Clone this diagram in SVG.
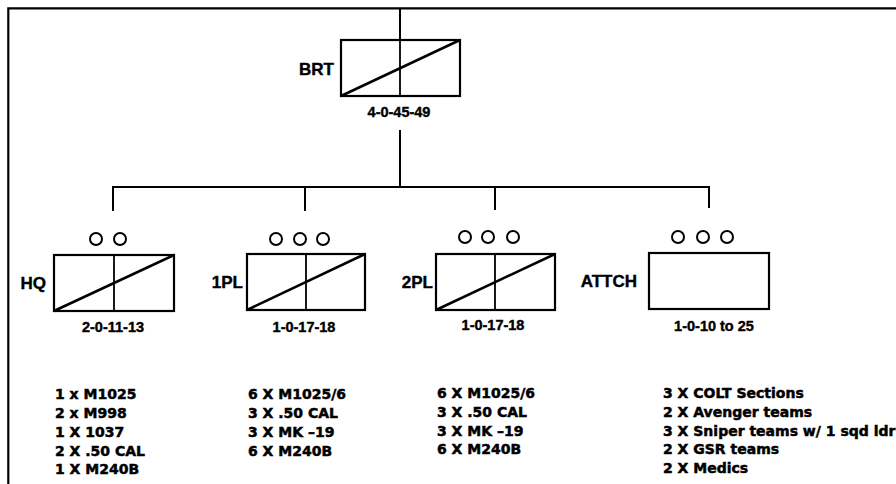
<svg xmlns="http://www.w3.org/2000/svg" width="896" height="484" viewBox="0 0 896 484">
<style>
.box{fill:none;stroke:#000;stroke-width:2.2}
.div{stroke:#000;stroke-width:1.8}
.diag{stroke:#000;stroke-width:2.6}
.ring{fill:none;stroke:#000;stroke-width:2}
.ln{fill:none;stroke:#000;stroke-width:2}
.lbl{font-family:"Liberation Sans",Arial,sans-serif;font-weight:bold;font-size:17px;fill:#000;stroke:#000;stroke-width:0.4;text-anchor:end}
.num{font-family:"Liberation Sans",Arial,sans-serif;font-weight:bold;font-size:14.5px;fill:#000;stroke:#000;stroke-width:0.4;text-anchor:middle}
.lst{font-family:"DejaVu Sans",sans-serif;font-weight:bold;font-size:14px;fill:#000;stroke:#000;stroke-width:0.5}
</style>
<rect width="896" height="484" fill="#fff"/>
<path d="M8.3,484 V8.3 H896" fill="none" stroke="#000" stroke-width="2.2"/>
<g id="connectors">
<path class="ln" d="M400,9 V40"/>
<path class="ln" d="M400,130 V187"/>
<path class="ln" d="M113,211 V187 H709 V208"/>
<path class="ln" d="M305,187 V211"/>
<path class="ln" d="M495,187 V210"/>
</g>
<g id="BRT">
<rect class="box" x="341" y="40" width="119" height="56"/>
<line class="div" x1="400" y1="40" x2="400" y2="96"/>
<line class="diag" x1="341" y1="96" x2="460" y2="40"/>
<text class="lbl" x="334" y="75">BRT</text>
<text class="num" x="399" y="117">4-0-45-49</text>
</g>
<g id="HQ">
<circle class="ring" cx="96" cy="239" r="6"/>
<circle class="ring" cx="120" cy="239" r="6"/>
<rect class="box" x="54" y="255" width="120" height="56"/>
<line class="div" x1="114" y1="255" x2="114" y2="311"/>
<line class="diag" x1="54" y1="311" x2="174" y2="255"/>
<text class="lbl" x="46" y="289">HQ</text>
<text class="num" x="113" y="332">2-0-11-13</text>
<text class="lst"><tspan x="55" y="399">1 x M1025</tspan><tspan x="55" y="418">2 x M998</tspan><tspan x="55" y="437">1 X 1037</tspan><tspan x="55" y="456">2 X .50 CAL</tspan><tspan x="55" y="474">1 X M240B</tspan></text>
</g>
<g id="PL1">
<circle class="ring" cx="276" cy="239" r="6"/>
<circle class="ring" cx="300" cy="239" r="6"/>
<circle class="ring" cx="323" cy="239" r="6"/>
<rect class="box" x="247" y="254" width="118" height="56"/>
<line class="div" x1="306" y1="254" x2="306" y2="310"/>
<line class="diag" x1="247" y1="310" x2="365" y2="254"/>
<text class="lbl" x="243" y="288">1PL</text>
<text class="num" x="304" y="332">1-0-17-18</text>
<text class="lst"><tspan x="248" y="399">6 X M1025/6</tspan><tspan x="248" y="418">3 X .50 CAL</tspan><tspan x="248" y="437">3 X MK –19</tspan><tspan x="248" y="456">6 X M240B</tspan></text>
</g>
<g id="PL2">
<circle class="ring" cx="465" cy="237" r="6"/>
<circle class="ring" cx="488" cy="237" r="6"/>
<circle class="ring" cx="513" cy="237" r="6"/>
<rect class="box" x="436" y="254" width="119" height="56"/>
<line class="div" x1="495" y1="254" x2="495" y2="310"/>
<line class="diag" x1="436" y1="310" x2="555" y2="254"/>
<text class="lbl" x="433" y="288">2PL</text>
<text class="num" x="493" y="330">1-0-17-18</text>
<text class="lst"><tspan x="437" y="398">6 X M1025/6</tspan><tspan x="437" y="417">3 X .50 CAL</tspan><tspan x="437" y="436">3 X MK –19</tspan><tspan x="437" y="454">6 X M240B</tspan></text>
</g>
<g id="ATTCH">
<circle class="ring" cx="678" cy="237" r="6"/>
<circle class="ring" cx="703" cy="237" r="6"/>
<circle class="ring" cx="727" cy="237" r="6"/>
<rect class="box" x="649" y="253" width="120" height="56"/>
<text class="lbl" x="637" y="287">ATTCH</text>
<text class="num" x="714" y="331">1-0-10 to 25</text>
<text class="lst"><tspan x="663" y="398">3 X COLT Sections</tspan><tspan x="663" y="417">2 X Avenger teams</tspan><tspan x="663" y="436">3 X Sniper teams w/ 1 sqd ldr</tspan><tspan x="663" y="454">2 X GSR teams</tspan><tspan x="663" y="473">2 X Medics</tspan></text>
</g>
</svg>
